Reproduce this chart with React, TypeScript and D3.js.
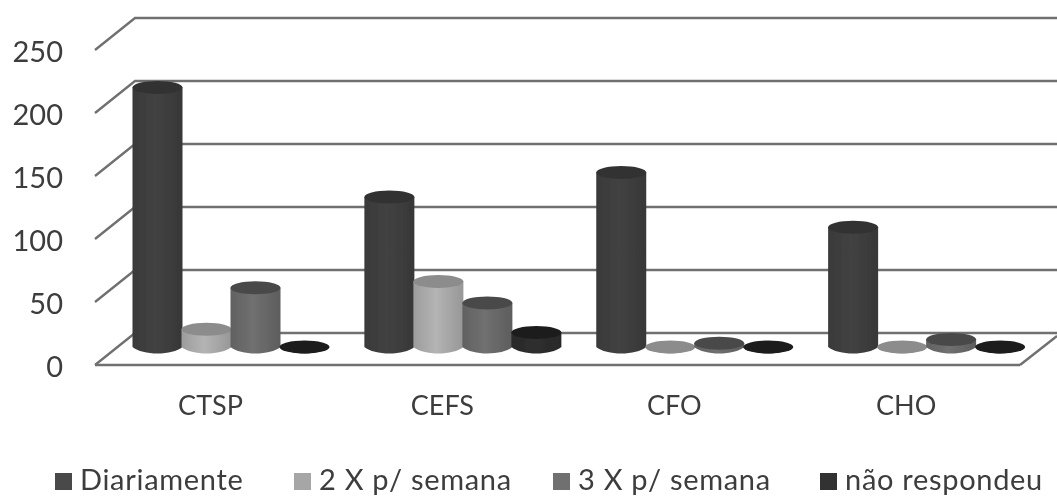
import * as d3 from 'd3';

const courses = ['CTSP', 'CEFS', 'CFO', 'CHO'];
const seriesNames = ['Diariamente', '2 X p/ semana', '3 X p/ semana', 'não respondeu'];
const diariamente = [206, 119, 138.5, 95];
const duasVezes = [14, 52, 0, 0];
const tresVezes = [47, 35, 3, 6];
const naoRespondeu = [0, 11.5, 0, 0];
const yTicks = [0, 50, 100, 150, 200, 250];

const seriesValues = [diariamente, duasVezes, tresVezes, naoRespondeu];
const bodyColors = ['#3d3d3d', '#a8a8a8', '#686868', '#2c2c2c'];
const topColors = ['#333333', '#8c8c8c', '#4a4a4a', '#1e1e1e'];
const legendSwatches = ['#484848', '#a6a6a6', '#6f6f6f', '#333333'];
const legendX = [55, 294, 553, 820];

const font = 'Lato, "Open Sans", sans-serif';
const textColor = '#3c3c3c';
const gridColor = '#707070';

const width = 1057;
const height = 496;
const depthX = 40;
const depthY = -32;

// back wall scale: value -> y on the back plane
const yBack = d3.scaleLinear().domain([0, 250]).range([333, 18]);
const baseY = 347;
const rx = 25;
const ry = 6.5;

const xGroup = d3.scaleBand<string>().domain(courses).range([132.5, 1060]);
const xInner = d3.scaleBand<number>().domain([0, 1, 2, 3]).range([0, 196]);

function cylinderPath(cx: number, top: number, bottom: number) {
  const p = d3.path();
  p.moveTo(cx - rx, top);
  p.lineTo(cx - rx, bottom);
  p.bezierCurveTo(cx - rx * 0.6, bottom + ry * 1.33, cx + rx * 0.6, bottom + ry * 1.33, cx + rx, bottom);
  p.lineTo(cx + rx, top);
  p.closePath();
  return p.toString();
}

export default function App() {
  const y0 = yBack(0);
  const px = (v: number) => y0 - yBack(v);

  return (
    <svg
      width={width}
      height={height}
      style={{ position: 'absolute', left: 0, top: 0, background: '#fff' }}
    >
      <defs>
        {bodyColors.map((c, i) => (
          <linearGradient key={i} id={`body${i}`} x1="0" x2="1" y1="0" y2="0">
            <stop offset="0" stopColor={d3.color(c)!.darker(0.2).formatHex()} />
            <stop offset="0.45" stopColor={d3.color(c)!.brighter(0.2).formatHex()} />
            <stop offset="1" stopColor={d3.color(c)!.darker(0.3).formatHex()} />
          </linearGradient>
        ))}
        <filter id="soft" x="-5%" y="-5%" width="110%" height="110%">
          <feGaussianBlur stdDeviation="0.6" />
        </filter>
      </defs>

      <g filter="url(#soft)">
        {/* walls and floor */}
        {yTicks.map((t) => (
          <polyline
            key={t}
            points={`${135 - depthX},${yBack(t) - depthY} 135,${yBack(t)} 1057,${yBack(t)}`}
            fill="none"
            stroke={gridColor}
            strokeWidth={2.4}
          />
        ))}
        <line x1={95} x2={1020} y1={365} y2={365} stroke={gridColor} strokeWidth={2.6} />
        <line x1={1020} x2={1057} y1={365} y2={336} stroke={gridColor} strokeWidth={2.4} />

        {/* cylinders */}
        {courses.map((course, g) =>
          seriesValues.map((vals, s) => {
            const cx = xGroup(course)! + xInner(s)! + rx;
            const top = baseY - px(vals[g]);
            return (
              <g key={`${course}-${s}`}>
                <path d={cylinderPath(cx, top, baseY)} fill={`url(#body${s})`} />
                <ellipse cx={cx} cy={top} rx={rx} ry={ry} fill={topColors[s]} />
              </g>
            );
          }),
        )}

        {/* y labels */}
        {yTicks.map((t) => (
          <text
            key={t}
            x={63}
            y={yBack(t) - depthY + 12}
            textAnchor="end"
            fontFamily={font}
            fontSize={29}
            fill={textColor}
          >
            {t}
          </text>
        ))}

        {/* categories */}
        {courses.map((course) => (
          <text
            key={course}
            x={xGroup(course)! + 78}
            y={415}
            textAnchor="middle"
            fontFamily={font}
            fontSize={27}
            fill={textColor}
          >
            {course}
          </text>
        ))}

        {/* legend */}
        {seriesNames.map((name, i) => (
          <g key={name}>
            <rect x={legendX[i]} y={473} width={17} height={17} fill={legendSwatches[i]} />
            <text
              x={legendX[i] + 25}
              y={490}
              fontFamily={font}
              fontSize={29}
              letterSpacing={0.7}
              fill={textColor}
            >
              {name}
            </text>
          </g>
        ))}
      </g>
    </svg>
  );
}
